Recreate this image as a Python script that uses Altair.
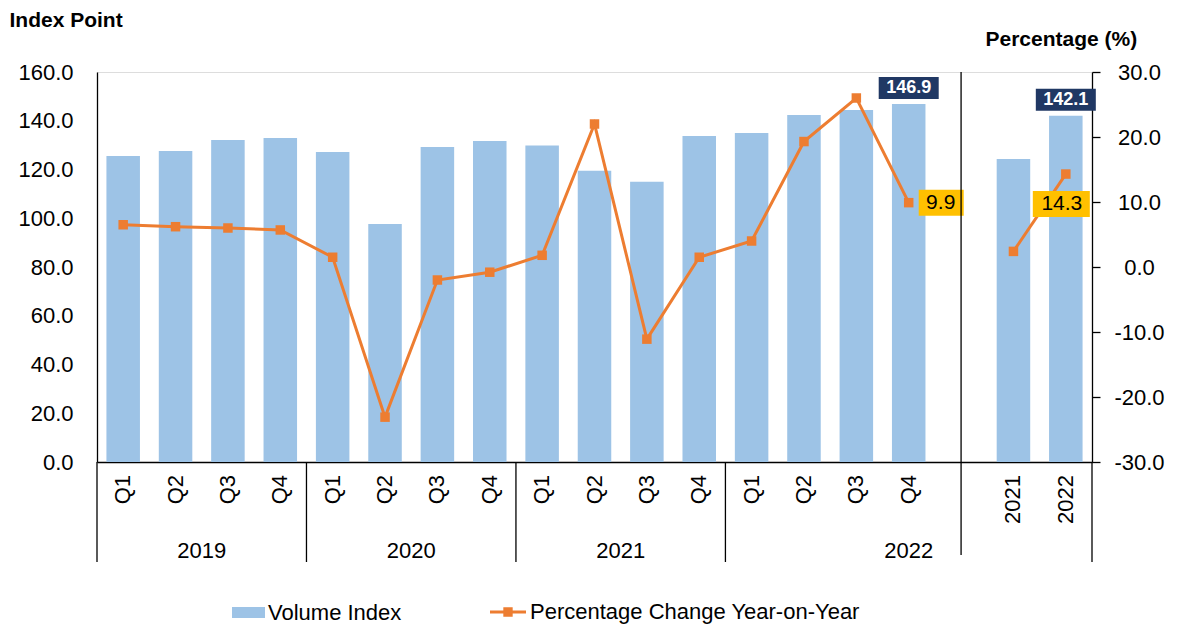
import altair as alt
import pandas as pd

FONT = "Liberation Sans"

years = ["2019", "2020", "2021", "2022"]
quarters = ["Q1", "Q2", "Q3", "Q4"]
annual_labels = ["2021", "2022"]

volume_quarterly = [125.5, 127.6, 132.1, 132.9,
                    127.2, 97.6, 129.2, 131.7,
                    129.8, 119.5, 115.0, 133.7,
                    135.0, 142.4, 144.4, 146.9]
volume_annual = [124.3, 142.1]

pct_quarterly = [6.5, 6.2, 6.0, 5.7,
                 1.5, -23.1, -2.0, -0.8,
                 1.8, 22.0, -11.1, 1.5,
                 4.0, 19.3, 26.0, 9.9]
pct_annual = [2.4, 14.3]

left_ticks = [0, 20, 40, 60, 80, 100, 120, 140, 160]
right_ticks = [-30, -20, -10, 0, 10, 20, 30]

BAR_NAME = "Volume Index"
LINE_NAME = "Percentage Change Year-on-Year"

# ---- build table -------------------------------------------------------
n_q = len(years) * len(quarters)
gap = 1
slot_total = n_q + gap + len(annual_labels)

rows = []
for yi, yr in enumerate(years):
    for qi, q in enumerate(quarters):
        k = yi * len(quarters) + qi
        rows.append(dict(pos=k + 0.5, label=q, vol=volume_quarterly[k],
                         pct=pct_quarterly[k], grp="q"))
for ai, a in enumerate(annual_labels):
    k = n_q + gap + ai
    rows.append(dict(pos=k + 0.5, label=a, vol=volume_annual[ai],
                     pct=pct_annual[ai], grp="a"))
df = pd.DataFrame(rows)
df["x1"] = df["pos"] - 0.32
df["x2"] = df["pos"] + 0.32
df["s_bar"] = BAR_NAME
df["s_line"] = LINE_NAME

last_q = df[df.grp == "q"].tail(1)
last_a = df[df.grp == "a"].tail(1)
navy_df = pd.concat([last_q, last_a])

bounds = [len(quarters) * i for i in range(len(years))] + [slot_total]
sep_df = pd.DataFrame({"b": bounds})
mid_df = pd.DataFrame({"b": [n_q + gap / 2]})

centers = []
for yi, yr in enumerate(years):
    start = yi * len(quarters)
    end = start + len(quarters) if yi < len(years) - 1 else slot_total
    centers.append((start + end) / 2)
year_df = pd.DataFrame({"year": years, "c": centers})

# ---- scales / axes -----------------------------------------------------
xscale = alt.Scale(domain=[0, slot_total], nice=False, zero=False)
xaxis = alt.Axis(labels=False, ticks=False, domain=True, domainColor="black",
                 domainWidth=1.3, grid=False, title=None)

lscale = alt.Scale(domain=[0, 160], nice=False, zero=False)
laxis = alt.Axis(orient="left", values=left_ticks, format=".1f", ticks=False,
                 labelPadding=24, labelFontSize=22, labelFont=FONT,
                 labelColor="black", domainColor="black", domainWidth=1.3,
                 grid=False, title="Index Point", titleAngle=0, titleX=-88,
                 titleY=-46, titleAlign="left", titleBaseline="alphabetic",
                 titleFontSize=21, titleFontWeight="bold", titleFont=FONT,
                 titleColor="black")

rscale = alt.Scale(domain=[-30, 30], nice=False, zero=False)
raxis = alt.Axis(orient="right", values=right_ticks,
                 labelExpr="(datum.value < 0 ? '-' : '') + format(abs(datum.value), '.1f')",
                 tickSize=8, tickColor="black", tickWidth=1.3,
                 labelPadding=39, labelAlign="center", labelFontSize=22,
                 labelFont=FONT, labelColor="black", domainColor="black",
                 domainWidth=1.3, grid=False, title="Percentage (%)",
                 titleAngle=0, titleX=-107, titleY=-27, titleAlign="left",
                 titleBaseline="alphabetic", titleFontSize=21,
                 titleFontWeight="bold", titleFont=FONT, titleColor="black")

BLUE = "#9DC3E6"
ORANGE = "#ED7D31"
NAVY = "#203864"
YELLOW = "#FFC000"

# ---- layer A: bars (left axis) ----------------------------------------
bars = alt.Chart(df).mark_bar().encode(
    x=alt.X("x1:Q", scale=xscale, axis=xaxis),
    x2="x2",
    y=alt.Y("vol:Q", scale=lscale, axis=laxis),
    y2=alt.datum(0),
    fill=alt.Fill("s_bar:N", scale=alt.Scale(domain=[BAR_NAME], range=[BLUE]),
                  legend=alt.Legend(title=None, orient="none", legendX=135,
                                    legendY=524,
                                    symbolType="M-1,-0.333H1V0.333H-1Z",
                                    symbolSize=1089, symbolStrokeWidth=0,
                                    labelFontSize=22, labelFont=FONT,
                                    labelColor="black", labelOffset=3,
                                    labelLimit=0)),
)

navy_box = alt.Chart(navy_df).mark_rect(
    color=NAVY, xOffset=-30, x2Offset=30, yOffset=-27, y2Offset=-5
).encode(
    x=alt.X("pos:Q", scale=xscale, axis=xaxis), x2="pos",
    y=alt.Y("vol:Q", scale=lscale, axis=laxis), y2="vol",
)
navy_txt = alt.Chart(navy_df).mark_text(
    dy=-16, color="white", fontWeight="bold", fontSize=18, font=FONT,
    baseline="middle", align="center"
).encode(
    x=alt.X("pos:Q", scale=xscale, axis=xaxis),
    y=alt.Y("vol:Q", scale=lscale, axis=laxis),
    text=alt.Text("vol:Q", format=".1f"),
)
layer_a = alt.layer(bars, navy_box, navy_txt)

# ---- layer B: line (right axis) ---------------------------------------
line = alt.Chart(df).mark_line(strokeWidth=3, color=ORANGE).encode(
    x=alt.X("pos:Q", scale=xscale, axis=xaxis),
    y=alt.Y("pct:Q", scale=rscale, axis=raxis),
    detail="grp:N",
)
pts = alt.Chart(df).mark_square(size=90, opacity=1).encode(
    x=alt.X("pos:Q", scale=xscale, axis=xaxis),
    y=alt.Y("pct:Q", scale=rscale, axis=raxis),
    fill=alt.Fill("s_line:N", scale=alt.Scale(domain=[LINE_NAME], range=[ORANGE]),
                  legend=alt.Legend(title=None, orient="none", legendX=393,
                                    legendY=522,
                                    symbolType="M-1,-0.08H1V0.08H-1Z M-0.26,-0.26H0.26V0.26H-0.26Z",
                                    symbolSize=1296, symbolStrokeWidth=0,
                                    labelFontSize=22, labelFont=FONT,
                                    labelColor="black", labelOffset=4,
                                    labelLimit=0)),
)

yb1 = alt.Chart(last_q).mark_rect(
    color=YELLOW, xOffset=10, x2Offset=55, yOffset=-13, y2Offset=13
).encode(
    x=alt.X("pos:Q", scale=xscale, axis=xaxis), x2="pos",
    y=alt.Y("pct:Q", scale=rscale, axis=raxis), y2="pct",
)
yt1 = alt.Chart(last_q).mark_text(
    dx=32, color="black", fontSize=21, font=FONT, baseline="middle", align="center"
).encode(
    x=alt.X("pos:Q", scale=xscale, axis=xaxis),
    y=alt.Y("pct:Q", scale=rscale, axis=raxis),
    text=alt.Text("pct:Q", format=".1f"),
)
yb2 = alt.Chart(last_a).mark_rect(
    color=YELLOW, xOffset=-33, x2Offset=24, yOffset=17, y2Offset=43
).encode(
    x=alt.X("pos:Q", scale=xscale, axis=xaxis), x2="pos",
    y=alt.Y("pct:Q", scale=rscale, axis=raxis), y2="pct",
)
yt2 = alt.Chart(last_a).mark_text(
    dx=-4, dy=30, color="black", fontSize=21, font=FONT, baseline="middle",
    align="center"
).encode(
    x=alt.X("pos:Q", scale=xscale, axis=xaxis),
    y=alt.Y("pct:Q", scale=rscale, axis=raxis),
    text=alt.Text("pct:Q", format=".1f"),
)
layer_b = alt.layer(line, pts, yb1, yt1, yb2, yt2)

# ---- category axis decorations ----------------------------------------
rules_below = alt.Chart(sep_df).mark_rule(color="black", strokeWidth=1.3).encode(
    x=alt.X("b:Q", scale=xscale, axis=xaxis),
    y=alt.value(390), y2=alt.value(490),
)
rule_mid = alt.Chart(mid_df).mark_rule(color="black", strokeWidth=1.3).encode(
    x=alt.X("b:Q", scale=xscale, axis=xaxis),
    y=alt.value(0), y2=alt.value(483),
)
cat_labels = alt.Chart(df).mark_text(
    angle=270, align="right", baseline="middle", fontSize=22, font=FONT,
    color="black"
).encode(
    x=alt.X("pos:Q", scale=xscale, axis=xaxis),
    y=alt.value(403),
    text="label:N",
)
year_labels = alt.Chart(year_df).mark_text(
    align="center", baseline="alphabetic", fontSize=22, font=FONT, color="black"
).encode(
    x=alt.X("c:Q", scale=xscale, axis=xaxis),
    y=alt.value(486),
    text="year:N",
)

chart = alt.layer(
    layer_a, layer_b, rules_below, rule_mid, cat_labels, year_labels
).resolve_scale(
    y="independent", fill="independent"
).resolve_legend(
    fill="independent"
).properties(
    width=995, height=390,
    autosize=alt.AutoSizeParams(type="none"),
    padding={"left": 89, "top": 64, "right": 81, "bottom": 165},
).configure_view(stroke=None).configure(font=FONT)

chart.save("out.html", embed_options={"renderer": "svg", "actions": False})
